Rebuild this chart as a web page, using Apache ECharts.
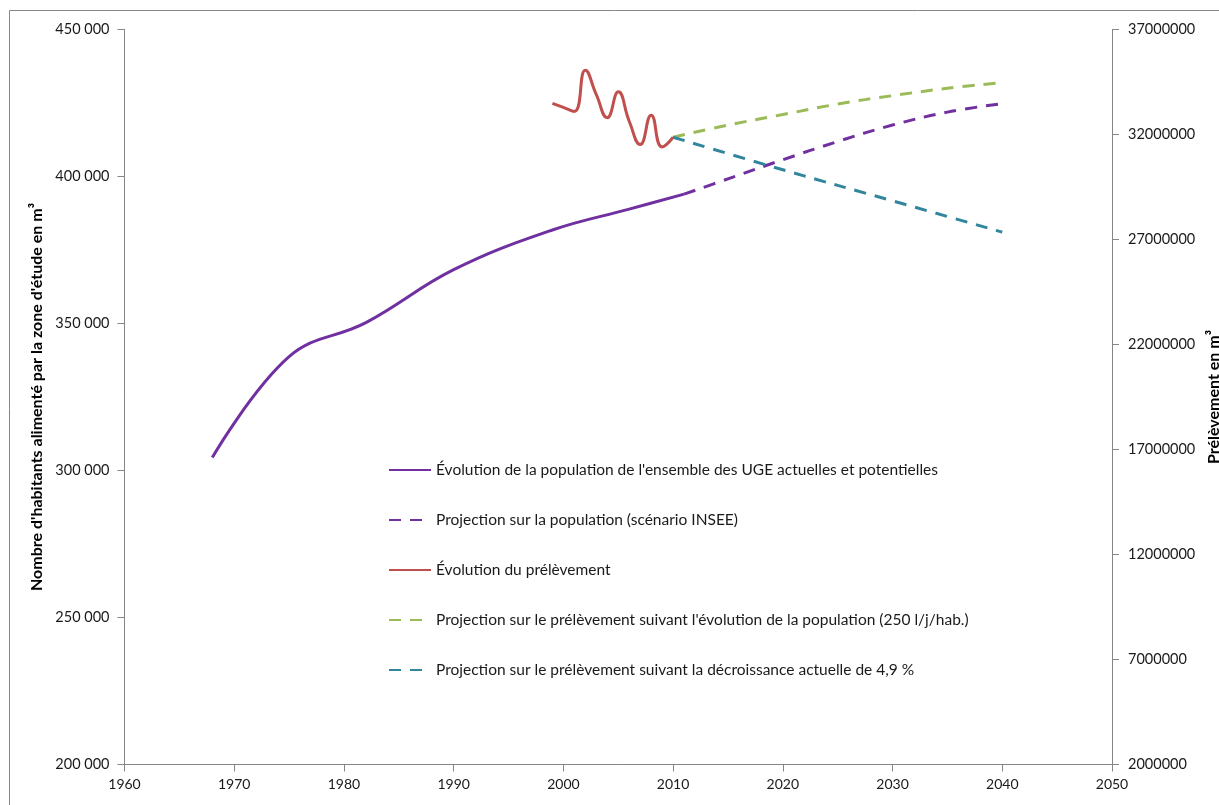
<!DOCTYPE html>
<html>
<head>
<meta charset="utf-8">
<script src="https://cdn.jsdelivr.net/npm/echarts@6/dist/echarts.min.js"></script>
<style>
html,body{margin:0;padding:0;background:#fff;}
#chart{width:1219px;height:805px;}
</style>
</head>
<body>
<div id="chart"></div>
<script>
// ---- Data ----
const legendNames = [
  "Évolution de la population de l'ensemble des UGE actuelles et potentielles",
  "Projection sur la population (scénario INSEE)",
  "Évolution du prélèvement",
  "Projection sur le prélèvement suivant l'évolution de la population (250 l/j/hab.)",
  "Projection sur le prélèvement suivant la décroissance actuelle de 4,9 %"
];
const popYears = [1968, 1975, 1982, 1990, 1999, 2006, 2011];
const popValues = [304400, 338700, 350300, 368300, 381800, 388900, 394000];

const popProjYears = [2011, 2015, 2020, 2025, 2030, 2035, 2040];
const popProjValues = [394000, 399200, 405700, 411900, 417500, 421900, 424800];

const prelevYears = [1999, 2000, 2001, 2002, 2003, 2004, 2005, 2006, 2007, 2008, 2009, 2010];
const prelevValues = [33480000, 33290000, 33100000, 35060000, 33900000, 32800000, 34030000, 32630000, 31520000, 32920000, 31410000, 31870000];

const projPopPrelevYears = [2010, 2015, 2020, 2025, 2030, 2035, 2040];
const projPopPrelevValues = [31870000, 32450000, 32950000, 33450000, 33850000, 34200000, 34470000];

const projDecrYears = [2010, 2020, 2030, 2040];
const projDecrValues = [31870000, 30320000, 28840000, 27350000];

const xTickLabels = [1960, 1970, 1980, 1990, 2000, 2010, 2020, 2030, 2040, 2050];
const leftAxisName = "Nombre d'habitants alimenté par la zone d'étude en m³";
const rightAxisName = "Prélèvement en m³";

// ---- Build ----
const pair = (xs, ys) => xs.map((x, i) => [x, ys[i]]);
const FONT = 'Lato';
const TXT = '#1a1a1a';
const AX = '#868686';
const dash = [12, 9];

const chart = echarts.init(document.getElementById('chart'), null, {renderer: 'canvas'});
chart.setOption({
  animation: false,
  backgroundColor: '#fff',
  graphic: [{
    type: 'rect', shape: {x: 9.5, y: 10.5, width: 1300, height: 900},
    style: {fill: 'none', stroke: AX, lineWidth: 1}, silent: true, z: -1
  }],
  grid: {left: 124.5, right: 107, top: 29.5, bottom: 40.5, containLabel: false, outerBoundsMode: 'none'},
  legend: {
    orient: 'vertical', left: 388, top: 462, padding: 0,
    itemWidth: 42, itemHeight: 16, itemGap: 34,
    itemStyle: {opacity: 0, color: 'rgba(0,0,0,0)', borderWidth: 0},
    textStyle: {fontFamily: FONT, fontSize: 15.5, color: TXT},
    data: legendNames
  },
  xAxis: {
    type: 'value', min: 1960, max: 2050, interval: 10,
    axisLine: {show: true, onZero: false, lineStyle: {color: AX, width: 1}},
    axisTick: {show: true, inside: false, length: 7, lineStyle: {color: AX}},
    axisLabel: {fontFamily: FONT, fontSize: 14, color: TXT, margin: 13,
      formatter: v => String(xTickLabels[Math.round((v - 1960) / 10)])},
    splitLine: {show: false}
  },
  yAxis: [{
    type: 'value', position: 'left', min: 200000, max: 450000, interval: 50000,
    name: leftAxisName, nameLocation: 'middle', nameGap: 59, nameRotate: 90,
    nameTextStyle: {fontFamily: FONT, fontSize: 16, fontWeight: 'bold', color: '#000'},
    axisLine: {show: true, lineStyle: {color: AX}},
    axisTick: {show: true, length: 7, lineStyle: {color: AX}},
    axisLabel: {fontFamily: FONT, fontSize: 14.5, color: TXT, margin: 15,
      formatter: v => String(v).replace(/\B(?=(\d{3})+(?!\d))/g, ' ')},
    splitLine: {show: false}
  }, {
    type: 'value', position: 'right', min: 2000000, max: 37000000, interval: 5000000,
    name: rightAxisName, nameLocation: 'middle', nameGap: 84, nameRotate: 90,
    nameTextStyle: {fontFamily: FONT, fontSize: 16, fontWeight: 'bold', color: '#000'},
    axisLine: {show: true, lineStyle: {color: AX}},
    axisTick: {show: true, length: 7, lineStyle: {color: AX}},
    axisLabel: {fontFamily: FONT, fontSize: 14.5, color: TXT, margin: 16,
      formatter: v => String(v)},
    splitLine: {show: false}
  }],
  series: [
    {name: legendNames[0], type: 'line', yAxisIndex: 0, smooth: 0.4, symbol: 'none',
     data: pair(popYears, popValues), lineStyle: {color: '#7030A0', width: 3}, itemStyle: {color: '#7030A0'}, z: 3},
    {name: legendNames[1], type: 'line', yAxisIndex: 0, smooth: 0.4, symbol: 'none',
     data: pair(popProjYears, popProjValues), lineStyle: {color: '#7030A0', width: 3, type: dash}, itemStyle: {color: '#7030A0'}, z: 2},
    {name: legendNames[2], type: 'line', yAxisIndex: 1, smooth: 0.5, symbol: 'none',
     data: pair(prelevYears, prelevValues), lineStyle: {color: '#C0504D', width: 3}, itemStyle: {color: '#C0504D'}, z: 3},
    {name: legendNames[3], type: 'line', yAxisIndex: 1, smooth: 0.4, symbol: 'none',
     data: pair(projPopPrelevYears, projPopPrelevValues), lineStyle: {color: '#9BBB59', width: 3, type: dash}, itemStyle: {color: '#9BBB59'}, z: 2},
    {name: legendNames[4], type: 'line', yAxisIndex: 1, smooth: 0.4, symbol: 'none',
     data: pair(projDecrYears, projDecrValues), lineStyle: {color: '#31859C', width: 3, type: dash}, itemStyle: {color: '#31859C'}, z: 2}
  ]
});
</script>
</body>
</html>
